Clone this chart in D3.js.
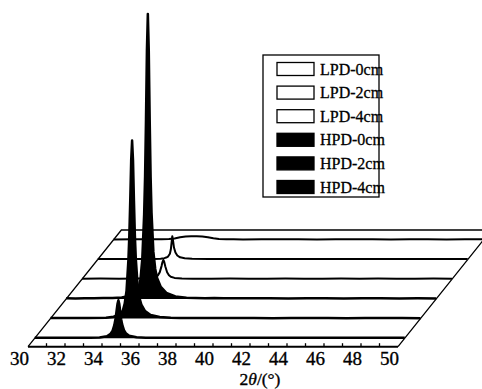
<!DOCTYPE html>
<html><head><meta charset="utf-8">
<script src="https://cdn.jsdelivr.net/npm/d3@7"></script>
<style>html,body{margin:0;padding:0;background:#fff;}svg{display:block;}</style>
</head><body><svg id="c" width="482" height="389"></svg>
<script>
// ---- data ----
const xDomain = [30, 50];
const xTickLabels = [30, 32, 34, 36, 38, 40, 42, 44, 46, 48, 50];
const minorTicks = [31,32,33,34,35,36,37,38,39,40,41,42,43,44,45,46,47,48,49];
const seriesNames = ["LPD-0cm", "LPD-2cm", "LPD-4cm", "HPD-0cm", "HPD-2cm", "HPD-4cm"];
// [2theta, intensity (a.u.)]
const lpd0 = [[30,4],[31,6],[32,5],[32.6,7],[33.0,8],[33.3,14],[33.6,26],[33.9,34],[34.2,36],[34.5,36],[34.8,33],[35.1,26],[35.4,16],[35.7,9],[36.1,5],[36.5,6],[37,4],[38,6],[39,5],[40,6],[41,4],[42,6],[43,5],[44,6],[45,4],[46,5],[47,6],[48,4],[49,5],[50,5]];
const lpd2 = [[30,5],[31,4],[32,6],[33,5],[33.4,8],[33.6,14],[33.7,20],[33.8,30],[33.9,58],[33.95,100],[34.0,185],[34.03,233],[34.07,190],[34.12,120],[34.2,70],[34.3,40],[34.45,22],[34.7,12],[35.1,7],[36,5],[37,6],[38,4],[39,6],[40,5],[41,6],[42,4],[43,6],[44,5],[45,6],[46,4],[47,5],[48,6],[49,4],[50,5]];
const lpd4 = [[30,5],[31,6],[32,4],[33,6],[33.5,7],[33.8,12],[34.0,23],[34.1,38],[34.2,68],[34.3,131],[34.35,171],[34.4,193],[34.45,170],[34.5,130],[34.6,70],[34.7,40],[34.8,25],[35.0,13],[35.4,6],[36,5],[37,4],[38,6],[39,5],[40,4],[41,6],[42,5],[43,4],[44,6],[45,5],[46,6],[47,4],[48,5],[49,6],[50,4]];
const hpd0 = [[30,6],[30.5,5],[31,7],[31.5,6],[32,8],[32.5,9],[33,14],[33.41,30],[33.71,55],[33.91,110],[34.01,190],[34.11,400],[34.21,846],[34.26,1222],[34.31,1790],[34.36,2483],[34.41,2850],[34.46,2483],[34.51,1790],[34.56,1222],[34.61,860],[34.71,470],[34.81,300],[34.91,210],[35.11,120],[35.41,60],[35.9,24],[36.5,12],[37,9],[37.5,7],[38,8],[38.5,6],[39,7],[40,6],[41,7],[42,5],[43,7],[44,6],[45,5],[46,7],[47,6],[48,5],[49,6],[50,5]];
const hpd2 = [[30,5],[31,6],[32,5],[33,8],[33.41,18],[33.71,40],[33.91,80],[34.01,150],[34.11,280],[34.21,585],[34.26,829],[34.31,1179],[34.36,1579],[34.41,1780],[34.46,1579],[34.51,1179],[34.56,829],[34.61,600],[34.71,330],[34.81,205],[34.91,140],[35.11,75],[35.41,36],[35.9,15],[36.5,8],[37,6],[38,5],[39,6],[40,5],[41,6],[42,4],[43,6],[44,5],[45,6],[46,4],[47,5],[48,6],[49,5],[50,4]];
const hpd4 = [[30,4],[31,5],[32,4],[33,6],[33.5,8],[33.9,20],[34.1,45],[34.2,72],[34.3,130],[34.37,200],[34.42,270],[34.47,342],[34.52,380],[34.57,342],[34.62,263],[34.67,190],[34.72,140],[34.82,80],[34.92,50],[35.1,25],[35.5,10],[36,6],[37,5],[38,4],[39,5],[40,4],[41,5],[42,4],[43,5],[44,4],[45,5],[46,4],[47,5],[48,4],[49,5],[50,4]];
const seriesData = [lpd0, lpd2, lpd4, hpd0, hpd2, hpd4];
const depthIndex = [5, 4, 3, 2, 1, 0]; // back (5) to front (0)

// ---- layout ----
const svg = d3.select("#c");
const FONT = "'Liberation Serif','Times New Roman',serif";
const Y0 = 346.7, slant = 0.8;
const xScale = d3.scaleLinear().domain(xDomain).range([28, 398]);
const yScale = d3.scaleLinear().domain([0, 3000]).range([0, 300]);
const depthScale = d3.scaleLinear().domain([-0.43, 5.5]).range([0, 116.7]);
const dBack = depthScale(5.5);

const P = (t, dep, I) => [xScale(t) + slant * dep, Y0 - dep - yScale(I)];

// frame
const frame = svg.append("g").attr("stroke", "#000").attr("fill", "none").attr("stroke-width", 1.3);
const fl = [P(30, 0, 0), P(30, dBack, 0), P(50, dBack, 0), P(50, 0, 0)];
frame.append("path").attr("d", d3.line()(fl));
frame.append("line").attr("x1", xScale(30)).attr("x2", xScale(50)).attr("y1", Y0).attr("y2", Y0).attr("stroke-width", 2);
// ticks
frame.selectAll("line.t").data(minorTicks).join("line").attr("class", "t")
  .attr("x1", d => xScale(d)).attr("x2", d => xScale(d))
  .attr("y1", Y0).attr("y2", Y0 - 3.5).attr("stroke-width", 1.3);

// tick labels
svg.append("g").selectAll("text").data(xTickLabels).join("text")
  .attr("x", d => xScale(d) - 8.5).attr("y", 365)
  .attr("text-anchor", "middle").attr("font-family", FONT).attr("font-size", 19)
  .attr("stroke", "#000").attr("stroke-width", 0.35)
  .text(d => d);
const tt = svg.append("text").attr("x", 260).attr("y", 385).attr("text-anchor", "middle")
  .attr("font-family", FONT).attr("font-size", 17.5).attr("stroke", "#000").attr("stroke-width", 0.35);
tt.append("tspan").text("2");
tt.append("tspan").attr("font-style", "italic").text("θ");
tt.append("tspan").text("/(°)");

// series back to front
const order = d3.range(seriesNames.length).sort((a, b) => depthIndex[b] - depthIndex[a]);
order.forEach(i => {
  const dep = depthScale(depthIndex[i]);
  const isH = seriesNames[i].startsWith("HPD");
  const data = seriesData[i];
  const area = d3.area().x(d => P(d[0], dep, d[1])[0]).y1(d => P(d[0], dep, d[1])[1]).y0(Y0 - dep);
  svg.append("path").datum(data).attr("d", area).attr("fill", isH ? "#000" : "#fff").attr("stroke", "none");
  const line = d3.line().x(d => P(d[0], dep, d[1])[0]).y(d => P(d[0], dep, d[1])[1]);
  svg.append("path").datum(data).attr("d", line).attr("fill", "none").attr("stroke", "#000")
    .attr("stroke-width", isH ? 2.5 : 2).attr("stroke-linejoin", "round");
});

// legend
const lg = svg.append("g").attr("transform", "translate(263,55)");
lg.append("rect").attr("x", 0).attr("y", 0).attr("width", 116).attr("height", 142)
  .attr("fill", "#fff").attr("stroke", "#000").attr("stroke-width", 1.3);
seriesNames.forEach((n, i) => {
  const y = 14 + i * 23.6;
  const isH = n.startsWith("HPD");
  lg.append("rect").attr("x", 14).attr("y", y - 6.5).attr("width", 37).attr("height", 13)
    .attr("fill", isH ? "#000" : "#fff").attr("stroke", "#000").attr("stroke-width", 1.3);
  lg.append("text").attr("x", 57).attr("y", y + 5.5).attr("font-family", FONT).attr("font-size", 16)
    .attr("stroke", "#000").attr("stroke-width", 0.3).text(n);
});
</script></body></html>
